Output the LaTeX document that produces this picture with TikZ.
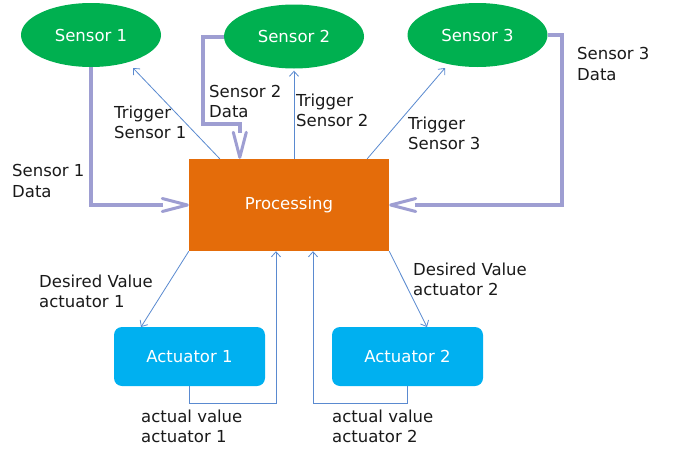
\documentclass[tikz,border=0pt]{standalone}
\usepackage{fontspec}
\setmainfont{DejaVu Sans}
\usetikzlibrary{arrows.meta,shapes.geometric}
\definecolor{sgreen}{HTML}{00B050}
\definecolor{porange}{HTML}{E46C0A}
\definecolor{ablue}{HTML}{00B0F0}
\definecolor{thinc}{HTML}{5A8AD0}
\definecolor{lav}{HTML}{9E9ED2}
\definecolor{txt}{HTML}{1A1A1A}
\begin{document}
\begin{tikzpicture}[x=1pt,y=-1pt,
  font=\fontsize{16.5}{20.5}\selectfont,
  sensor/.style={ellipse,fill=sgreen,text=white,minimum width=140pt,minimum height=64pt,inner sep=0pt},
  procbox/.style={rectangle,fill=porange,text=white,minimum width=200pt,minimum height=92pt,inner sep=0pt},
  actbox/.style={rectangle,rounded corners=8pt,fill=ablue,text=white,minimum width=151pt,minimum height=59pt,inner sep=0pt},
  datal/.style={draw=lav,line width=4pt,shorten >=26pt},
  chev/.style={draw=lav,line width=3pt,line join=round,line cap=round},
  thinl/.style={draw=thinc,line width=0.8pt,-{Straight Barb[length=5pt,width=9pt]}},
  lbl/.style={anchor=west,align=left,inner sep=0pt,text=txt}]
\useasboundingbox (0,0) rectangle (675,450);
\fill[white] (0,0) rectangle (675,450);
% nodes
\node[sensor] (s1) at (91,35) {Sensor 1};
\node[sensor] (s2) at (294,36.5) {Sensor 2};
\node[sensor] (s3) at (477.5,35) {Sensor 3};
\node[procbox] (proc) at (289,205) {\raisebox{-2pt}{Processing}};
\node[actbox] (a1) at (189.5,356.5) {Actuator 1};
\node[actbox] (a2) at (407.5,356.5) {Actuator 2};
% helper coordinates
\coordinate (c2) at (203,124);
\coordinate (c3) at (562,205);
\coordinate (p2) at ([xshift=51pt]proc.north west);
\coordinate (k1) at ([xshift=-1.5pt]proc.west);
\coordinate (k2) at ([yshift=1.5pt]p2);
\coordinate (k3) at ([xshift=1.5pt]proc.east);
\coordinate (t1) at (133,68);
\coordinate (t3) at (445,68);
\coordinate (d1) at (141,327);
\coordinate (d2) at (427,327);
\coordinate (c4) at (276,403);
\coordinate (c5) at (313,403);
% data lines
\draw[datal] (s1.south) |- (proc.west);
\draw[chev] ([shift={(-25pt,-6.5pt)}]k1) -- (k1) -- ([shift={(-25pt,6.5pt)}]k1);
\draw[datal] (s2.west) -| (c2) -| (p2);
\draw[chev] ([shift={(-6.5pt,25pt)}]k2) -- (k2) -- ([shift={(6.5pt,25pt)}]k2);
\draw[datal] (s3.east) -| (c3) -- (proc.east);
\draw[chev] ([shift={(25pt,-6.5pt)}]k3) -- (k3) -- ([shift={(25pt,6.5pt)}]k3);
% trigger lines
\draw[thinl] ([xshift=31pt]proc.north west) -- (t1);
\draw[thinl] (s2.south |- proc.north) -- ([yshift=-2pt]s2.south);
\draw[thinl] ([xshift=-22pt]proc.north east) -- (t3);
% desired values
\draw[thinl] (proc.south west) -- (d1);
\draw[thinl] (proc.south east) -- (d2);
% actual values
\draw[thinl] (a1.south) |- (c4) -- (c4 |- proc.south);
\draw[thinl] (a2.south) |- (c5) -- (c5 |- proc.south);
% labels
\node[lbl] (l1) at (114,122.5) {Trigger\\Sensor 1};
\node[lbl] (l2) at (12,181) {Sensor 1\\Data};
\node[lbl] (l3) at (209,101.5) {Sensor 2\\Data};
\node[lbl] (l4) at (296,110.5) {Trigger\\Sensor 2};
\node[lbl] (l5) at (408,133.5) {Trigger\\Sensor 3};
\node[lbl] (l6) at (577,64) {Sensor 3\\Data};
\node[lbl] (l7) at (39,291.5) {Desired Value\\actuator 1};
\node[lbl] (l8) at (413,279.5) {Desired Value\\actuator 2};
\node[lbl] (l9) at (141,426.5) {actual value\\actuator 1};
\node[lbl] (l10) at (332,426.5) {actual value\\actuator 2};
\end{tikzpicture}
\end{document}
